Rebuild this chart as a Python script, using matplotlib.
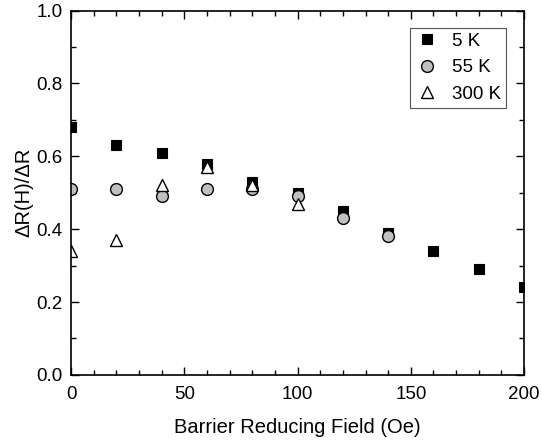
import numpy as np
import matplotlib.pyplot as plt
from matplotlib.ticker import MultipleLocator

plt.rcParams['font.family'] = ['Liberation Sans', 'DejaVu Sans']

# barrier reducing field (Oe)
field_5K = [0, 20, 40, 60, 80, 100, 120, 140, 160, 180, 200]
ratio_5K = [0.68, 0.63, 0.61, 0.58, 0.53, 0.50, 0.45, 0.39, 0.34, 0.29, 0.24]

field_55K = [0, 20, 40, 60, 80, 100, 120, 140]
ratio_55K = [0.51, 0.51, 0.49, 0.51, 0.51, 0.49, 0.43, 0.38]

field_300K = [0, 20, 40, 60, 80, 100]
ratio_300K = [0.34, 0.37, 0.52, 0.57, 0.52, 0.47]

fig = plt.figure(figsize=(5.42, 4.40), dpi=100)
ax = fig.add_axes([0.131, 0.148, 0.836, 0.828])

ax.plot(field_5K, ratio_5K, 's', color='black', markersize=7.5,
        markeredgewidth=0.8, label='5 K')
ax.plot(field_55K, ratio_55K, 'o', markerfacecolor='#c0c0c0',
        markeredgecolor='black', markersize=8.5, markeredgewidth=1.0, label='55 K')
ax.plot(field_300K, ratio_300K, '^', markerfacecolor='white',
        markeredgecolor='black', markersize=9, markeredgewidth=1.0, label='300 K')

ax.set_xlim(0, 200)
ax.set_ylim(0, 1.0)
ax.xaxis.set_major_locator(MultipleLocator(50))
ax.xaxis.set_minor_locator(MultipleLocator(10))
ax.yaxis.set_major_locator(MultipleLocator(0.2))
ax.yaxis.set_minor_locator(MultipleLocator(0.1))
ax.yaxis.set_major_formatter(plt.FormatStrFormatter('%.1f'))

ax.tick_params(which='both', direction='in', top=True, right=True,
               width=1.0, labelsize=13.5)
ax.tick_params(axis='x', pad=8)
ax.tick_params(axis='y', pad=6)
ax.tick_params(which='major', length=6)
ax.tick_params(which='minor', length=3.5)
for s in ax.spines.values():
    s.set_linewidth(1.2)

ax.set_xlabel('Barrier Reducing Field (Oe)', fontsize=14.5, labelpad=11)
ax.set_ylabel('ΔR(H)/ΔR', fontsize=14.5, labelpad=2)

leg = ax.legend(loc='upper right', bbox_to_anchor=(0.96, 0.952), fontsize=13.5,
                fancybox=False, edgecolor='#555555', framealpha=1,
                handletextpad=0.7, borderpad=0.25, labelspacing=0.5,
                handlelength=1.3, borderaxespad=0)
leg.get_frame().set_linewidth(0.8)

fig.savefig('out.png', dpi=100)
